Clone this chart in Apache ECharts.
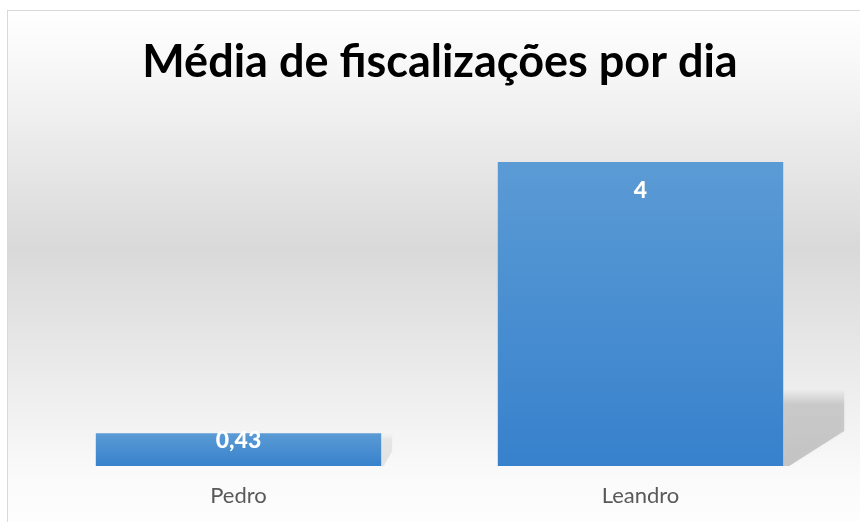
<!DOCTYPE html>
<html>
<head>
<meta charset="utf-8">
<script src="https://cdn.jsdelivr.net/npm/echarts@6/dist/echarts.min.js"></script>
<style>
html,body{margin:0;padding:0;background:#fff;overflow:hidden;width:860px;height:522px;}
#c{position:absolute;left:7px;top:10px;width:866px;height:530px;box-sizing:border-box;border:1px solid #d9d9d9;}
</style>
</head>
<body>
<div id="c"></div>
<script>
const titleText = 'Média de fiscalizações por dia';
const categories = ['Pedro', 'Leandro'];
const values = [0.43, 4];
const valueLabels = ['0,43', '4'];

const chart = echarts.init(document.getElementById('c'), null, {renderer: 'canvas'});
const BAR_RATIO = 0.71;

const option = {
  backgroundColor: new echarts.graphic.LinearGradient(0, 0, 0, 1, [
    {offset: 0, color: '#ffffff'},
    {offset: 0.12, color: '#f6f6f6'},
    {offset: 0.45, color: '#d9d9d9'},
    {offset: 0.88, color: '#fafafa'},
    {offset: 1, color: '#ffffff'}
  ]),
  title: {
    text: titleText,
    left: 'center',
    top: 24,
    textStyle: {fontFamily: 'Lato', fontWeight: 'bold', fontSize: 45, color: '#000000'}
  },
  grid: {left: 29.5, right: 30.5, top: 151, bottom: 73, containLabel: false},
  xAxis: {
    type: 'category',
    data: categories,
    axisLine: {show: false},
    axisTick: {show: false},
    axisLabel: {color: '#595959', fontSize: 22, fontFamily: 'Lato', margin: 19}
  },
  yAxis: {
    type: 'value',
    min: 0,
    max: 4,
    show: false,
    splitLine: {show: false}
  },
  series: [
    {
      type: 'custom',
      z: 1,
      silent: true,
      data: values.map((v, i) => [i, v]),
      renderItem: function (params, api) {
        const top = api.coord([api.value(0), api.value(1)]);
        const base = api.coord([api.value(0), 0]);
        const band = api.size([1, 0])[0];
        const xR = top[0] + band * BAR_RATIO / 2;
        const barH = base[1] - top[1];
        const k = Math.min(1, barH / 77);
        const h = 77 * k;
        const w = 61 * k * k;
        const a = 0.2 * k;
        const yB = base[1];
        return {
          type: 'polygon',
          shape: {points: [[xR, yB - h], [xR + w, yB - h], [xR + w, yB - 35 * k], [xR + 6 * k, yB], [xR, yB]]},
          style: {
            fill: new echarts.graphic.LinearGradient(0, 0, 0, 1, [
              {offset: 0, color: 'rgba(0,0,0,0)'},
              {offset: 0.2, color: 'rgba(0,0,0,' + (a * 0.75) + ')'},
              {offset: 1, color: 'rgba(0,0,0,' + a + ')'}
            ]),
            shadowBlur: 4,
            shadowColor: 'rgba(0,0,0,' + (a * 0.5) + ')'
          }
        };
      }
    },
    {
      type: 'bar',
      z: 2,
      barWidth: (BAR_RATIO * 100) + '%',
      data: values.map((v, i) => ({
        value: v,
        label: {distance: i === 0 ? -4 : 17}
      })),
      itemStyle: {
        color: new echarts.graphic.LinearGradient(0, 0, 0, 1, [
          {offset: 0, color: '#5b9bd5'},
          {offset: 1, color: '#3781cc'}
        ])
      },
      label: {
        show: true,
        position: 'insideTop',
        color: '#ffffff',
        fontFamily: 'Lato',
        fontWeight: 900,
        fontSize: 23,
        formatter: p => valueLabels[p.dataIndex]
      }
    }
  ]
};
chart.setOption(option);
</script>
</body>
</html>
